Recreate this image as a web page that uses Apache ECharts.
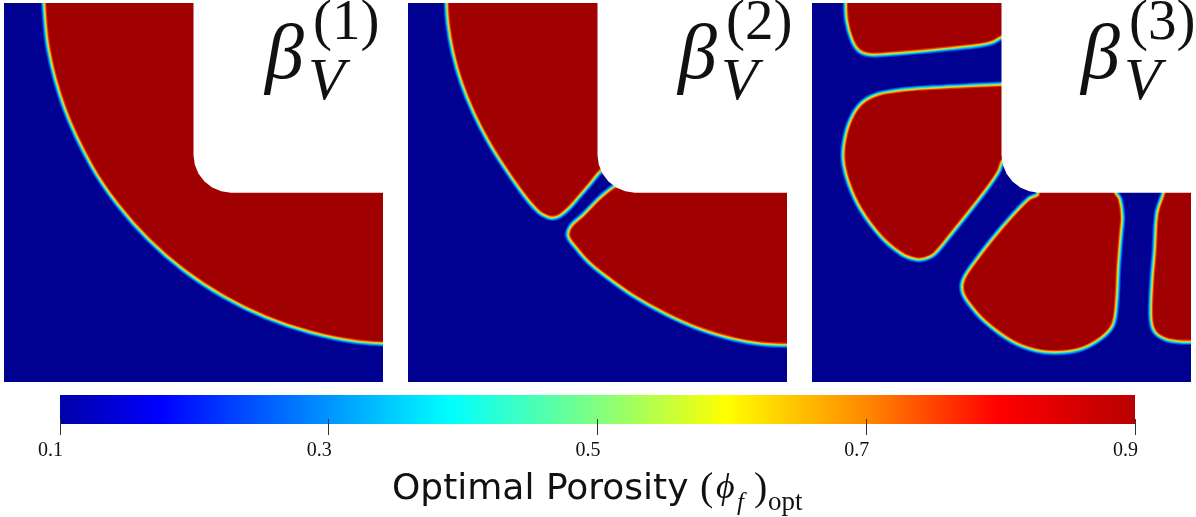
<!DOCTYPE html>
<html><head><meta charset="utf-8">
<style>html,body{margin:0;padding:0;background:#fff}#c{width:1196px;height:517px}</style>
<script src="https://cdn.jsdelivr.net/npm/echarts@6/dist/echarts.min.js"></script>
</head><body><div id="c"></div>
<script>
// Domain units: full panel edge = 1136 units. Outlines run past the domain so clipping trims them.
const notch = [[568,-80],[568,456],[572,485],[583,512],[601,535],[624,553],[651,564],[680,569],[1300,569],[1300,-80]];
const panel1 = [
  [[124,-100],[124,-50],[140,135],[189,315],[268,483],[346,599],[439,704],[545,796],[662,873],[788,935],[921,980],[1060,1008],[1200,1016],[1300,1016],[1300,-100]]
];
const panel2 = [
  [[123,-100],[122,-20],[127,61],[142,148],[167,236],[203,325],[247,411],[297,491],[357,576],[397,621],[420,634],[434,637],[452,631],[477,610],[507,576],[537,541],[562,510],[640,420],[640,-100]],
  [[650,500],[650,545],[622,556],[580,589],[530,640],[495,672],[487,697],[510,730],[545,770],[597,813],[677,870],[777,926],[877,970],[977,1000],[1057,1014],[1136,1018],[1300,1018],[1300,500]]
];
const panel3 = [
  [[108,-100],[108,-20],[111,51],[128,111],[148,139],[178,148],[223,146],[313,139],[413,129],[503,119],[538,111],[568,95],[650,70],[650,-100]],
  [[650,250],[568,251],[463,256],[363,261],[263,269],[198,281],[153,306],[123,351],[105,411],[101,471],[118,541],[153,616],[213,696],[273,746],[313,761],[338,759],[363,746],[413,686],[473,611],[523,546],[553,501],[568,466],[640,420]],
  [[903,500],[680,500],[683,576],[655,592],[605,643],[545,713],[495,778],[462,828],[457,858],[472,890],[522,948],[602,1007],[672,1034],[733,1040],[803,1030],[860,1000],[895,962],[906,890],[911,790],[919,690],[923,641],[916,590],[903,569]],
  [[1075,500],[1061,569],[1041,631],[1034,741],[1026,841],[1023,941],[1033,981],[1063,1001],[1103,1008],[1138,1009],[1300,1010],[1300,500]]
];
const panels = [panel1, panel2, panel3];
const panelLeft = [4, 408, 812];
const rimWidths = [11, 9, 7.2, 5.4, 3.8, 2.2];
const rimColors = ['#0040e8', '#00a0f0', '#30e0c0', '#b0f050', '#ffb000', '#e83000'];
const fieldLow = '#000091', fieldHigh = '#a00000';
const barValues = [0.1, 0.175, 0.39, 0.5, 0.596, 0.7, 0.798, 0.9];
const barColors = ['#0000a8', '#0000ff', '#00ffff', '#80ff80', '#ffff00', '#ff8800', '#ff0000', '#b80000'];
const barTicks = [0.1, 0.3, 0.5, 0.7, 0.9];

const grids = [], xAxes = [], yAxes = [], series = [];
panelLeft.forEach((left, p) => {
  grids.push({left, top: 3, width: 379, height: 379, show: true, backgroundColor: fieldLow, borderWidth: 0});
  xAxes.push({type: 'value', gridIndex: p, min: 0, max: 1136, show: false});
  yAxes.push({type: 'value', gridIndex: p, min: 0, max: 1136, inverse: true, show: false});
  const ser = (rows, render, z) => series.push({type: 'custom', xAxisIndex: p, yAxisIndex: p, clip: true, silent: true, z,
    data: rows.map((_, i) => [i]), encode: {x: 0, y: 0}, renderItem: render});
  ser(panels[p], (params, api) => {
    const pts = panels[p][params.dataIndex].map(q => api.coord(q));
    const children = rimWidths.map((w, k) => ({type: 'polygon', shape: {points: pts, smooth: 0.33},
      style: {fill: 'none', stroke: rimColors[k], lineWidth: w, lineJoin: 'round'}}));
    children.push({type: 'polygon', shape: {points: pts, smooth: 0.33}, style: {fill: fieldHigh, stroke: 'none'}});
    return {type: 'group', children};
  }, 2);
  ser([0], (params, api) => ({type: 'polygon', shape: {points: notch.map(q => api.coord(q))}, style: {fill: '#fff'}}), 3);
});
grids.push({left: 60, width: 1075, top: 395, height: 29, show: false});
xAxes.push({type: 'value', gridIndex: 3, min: 0.1, max: 0.9, interval: 0.2, splitLine: {show: false},
  axisLine: {show: false}, offset: -5, z: 10,
  axisTick: {show: true, length: 16, lineStyle: {color: '#333', width: 1}},
  axisLabel: {margin: 22, fontFamily: 'Liberation Serif', fontSize: 20, color: '#111', padding: [0, 19, 0, 0],
    showMinLabel: true, showMaxLabel: true, hideOverlap: false,
    formatter: v => barTicks.reduce((a, b) => Math.abs(b - v) < Math.abs(a - v) ? b : a).toFixed(1)}});
yAxes.push({type: 'value', gridIndex: 3, min: 0, max: 1, show: false});
series.push({type: 'custom', xAxisIndex: 3, yAxisIndex: 3, silent: true, data: [[0.1]], encode: {x: 0},
  renderItem: (params, api) => {
    const a = api.coord([0.1, 1]), b = api.coord([0.9, 0]);
    return {type: 'rect', shape: {x: a[0], y: a[1], width: b[0] - a[0], height: b[1] - a[1]},
      style: {fill: new echarts.graphic.LinearGradient(0, 0, 1, 0,
        barValues.map((v, i) => ({offset: (v - 0.1) / 0.8, color: barColors[i]})))}};
  }});

const serif = 'Liberation Serif';
const elements = [];
['(1)', '(2)', '(3)'].forEach((sup, i) => {
  const dx = [0, 413, 816][i];
  elements.push(
    {type: 'text', z: 100, left: 265 + dx, top: 18, style: {text: 'β', font: 'italic 78px ' + serif, fill: '#111'}},
    {type: 'text', z: 100, left: 308 + dx, top: 53, style: {text: 'V', font: 'italic 60px ' + serif, fill: '#111'}},
    {type: 'text', z: 100, left: 313 + dx, top: -4, style: {text: sup, font: '57px ' + serif, fill: '#111'}});
});
elements.push(
  {type: 'text', z: 100, left: 392, top: 472, style: {text: 'Optimal Porosity', font: '36px "DejaVu Sans"', fill: '#111'}},
  {type: 'text', z: 100, left: 700, top: 469, style: {text: '(', font: '40px ' + serif, fill: '#111'}},
  {type: 'text', z: 100, left: 716, top: 471, style: {text: 'ϕ', font: 'italic 36px ' + serif, fill: '#111'}},
  {type: 'text', z: 100, left: 737, top: 491, style: {text: 'f', font: 'italic 25px ' + serif, fill: '#111'}},
  {type: 'text', z: 100, left: 754, top: 469, style: {text: ')', font: '40px ' + serif, fill: '#111'}},
  {type: 'text', z: 100, left: 768, top: 489, style: {text: 'opt', font: '27px ' + serif, fill: '#111'}}
);
const chart = echarts.init(document.getElementById('c'), null, {renderer: 'canvas'});
chart.setOption({animation: false, backgroundColor: '#fff', grid: grids, xAxis: xAxes, yAxis: yAxes, series, graphic: {z: 100, elements}});
</script></body></html>
